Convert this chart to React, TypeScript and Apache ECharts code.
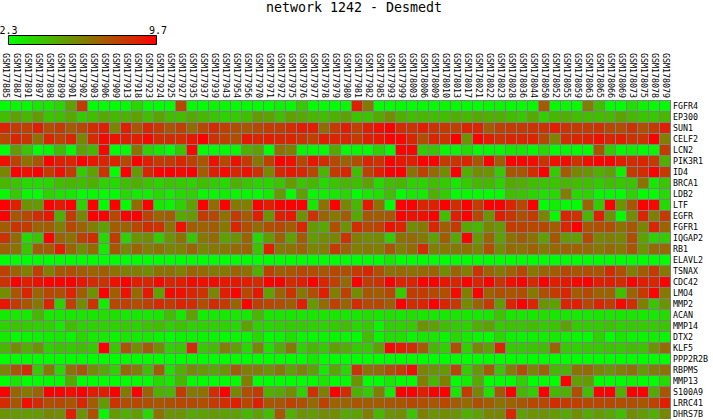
import React, { useEffect, useRef } from "react";
import * as echarts from "echarts";

const samples = ["GSM177885","GSM177887","GSM177891","GSM177897","GSM177898","GSM177899","GSM177901","GSM177902","GSM177903","GSM177906","GSM177909","GSM177913","GSM177918","GSM177923","GSM177924","GSM177925","GSM177927","GSM177935","GSM177937","GSM177939","GSM177943","GSM177954","GSM177956","GSM177970","GSM177971","GSM177972","GSM177975","GSM177976","GSM177977","GSM177978","GSM177979","GSM177980","GSM177981","GSM177982","GSM177985","GSM177993","GSM177999","GSM178003","GSM178006","GSM178009","GSM178010","GSM178013","GSM178017","GSM178021","GSM178022","GSM178023","GSM178028","GSM178036","GSM178044","GSM178050","GSM178052","GSM178055","GSM178059","GSM178063","GSM178065","GSM178066","GSM178069","GSM178073","GSM178075","GSM178078","GSM178079"];
const genes = ["FGFR4","EP300","SUN1","CELF2","LCN2","PIK3R1","ID4","BRCA1","LDB2","LTF","EGFR","FGFR1","IQGAP2","RB1","ELAVL2","TSNAX","CDC42","LMO4","MMP2","ACAN","MMP14","DTX2","KLF5","PPP2R2B","RBPMS","MMP13","S100A9","LRRC41","DHRS7B"];

const FGFR4 = [2.3,2.5,2.5,3.0,3.0,3.5,5.0,8.0,2.3,2.3,2.3,2.4,3.5,2.4,2.3,2.3,7.6,2.4,2.3,2.6,2.5,2.4,2.4,2.3,2.3,2.7,2.5,3.8,2.4,2.3,2.3,2.5,8.8,6.2,2.3,2.3,2.4,2.3,2.4,2.4,2.5,2.4,2.4,2.3,2.5,2.6,2.4,2.4,2.5,7.0,2.5,2.5,2.4,6.0,4.2,2.4,2.3,3.2,2.7,2.4,2.4];
const EP300 = [4.2,5.0,4.4,5.2,4.0,4.2,4.8,3.8,4.2,4.8,4.4,4.6,5.0,4.2,5.0,4.2,4.2,4.8,4.4,4.0,3.6,3.8,4.2,5.2,5.0,4.2,5.0,4.8,4.4,4.2,4.6,5.0,4.0,4.0,4.8,5.6,4.6,4.2,4.4,4.2,4.2,4.6,4.4,4.8,4.6,4.6,4.2,3.9,4.8,3.6,4.4,4.6,4.2,4.2,4.2,4.3,5.0,4.4,4.0,3.9,4.4];
const SUN1 = [8.6,8.0,7.8,8.8,7.4,8.0,7.0,7.6,8.4,8.8,5.8,8.8,7.2,8.6,8.0,7.2,7.8,6.6,7.6,8.4,7.8,7.4,7.2,7.6,8.0,8.0,8.4,8.8,8.8,6.6,8.0,8.8,7.8,8.8,9.2,9.7,8.4,8.2,8.8,8.2,8.0,7.8,8.6,8.6,7.0,7.8,8.0,8.0,8.2,8.2,8.8,8.2,8.0,8.0,8.2,7.6,7.4,8.2,7.4,8.0,8.8];
const CELF2 = [7.6,8.6,8.2,6.4,8.6,7.8,8.6,5.8,8.4,9.4,9.2,8.8,8.8,9.4,8.4,8.4,8.4,9.0,9.7,8.2,7.8,7.4,9.0,8.6,8.8,8.6,8.6,8.2,7.8,8.8,8.6,8.6,8.0,8.8,9.0,9.6,9.4,8.6,7.4,8.6,8.2,9.7,5.4,9.6,8.8,8.2,8.6,8.6,8.6,7.6,5.8,8.4,8.6,8.8,9.2,8.6,8.8,8.2,8.2,9.7,6.0];
const LCN2 = [2.3,5.2,4.0,2.3,2.6,4.2,2.5,5.0,4.4,9.4,2.3,2.4,6.4,3.6,3.0,2.4,4.0,9.4,2.3,2.4,2.4,2.5,4.6,5.0,2.3,6.4,6.0,2.6,2.5,2.4,4.8,2.4,2.5,2.4,3.6,2.5,9.5,9.5,3.8,4.0,2.5,2.6,3.3,2.4,2.5,2.5,3.0,3.0,2.5,3.4,2.4,2.6,2.4,2.4,7.2,3.8,2.5,2.8,2.4,2.5,8.0];
const PIK3R1 = [9.2,7.8,6.4,7.2,9.6,8.8,8.6,9.7,9.0,8.6,8.6,7.6,9.7,8.8,8.0,8.0,8.6,7.8,7.2,9.2,7.6,9.2,8.0,6.2,7.8,9.7,9.2,7.6,9.0,8.4,7.6,6.8,7.4,8.6,8.2,9.6,9.0,8.8,9.6,9.7,8.0,8.2,8.6,7.2,9.6,7.0,9.7,9.5,9.3,8.2,9.2,9.3,8.2,9.3,9.6,9.6,8.8,8.4,8.6,8.0,4.6];
const ID4 = [5.8,9.7,9.2,9.7,8.0,9.2,8.0,3.8,5.0,8.2,2.3,9.7,5.2,8.6,9.6,9.7,9.4,9.7,7.0,8.8,9.4,8.6,9.2,8.2,5.8,8.6,9.0,8.6,7.6,4.4,8.0,8.6,4.2,7.8,8.8,9.7,9.7,6.4,7.8,6.6,5.6,9.7,4.6,5.6,5.4,3.8,7.2,7.2,8.4,9.7,3.8,7.0,5.8,5.4,4.6,5.0,2.8,8.0,8.4,9.7,8.0];
const BRCA1 = [4.4,4.0,3.4,3.4,3.5,4.2,4.4,4.2,4.6,3.6,3.4,4.2,4.6,4.0,3.6,4.0,3.8,3.6,4.2,3.8,3.4,4.6,4.0,3.6,3.6,4.0,5.2,4.0,4.4,3.4,4.0,4.4,4.2,5.0,3.4,4.2,4.4,3.6,3.6,4.2,3.8,3.0,3.8,4.4,4.4,3.6,4.8,4.6,4.2,4.0,4.0,4.4,4.2,4.2,3.8,4.2,3.9,4.0,6.4,3.0,4.0];
const LDB2 = [2.5,3.8,2.5,2.3,3.6,3.2,3.0,2.4,2.5,2.4,2.4,3.4,2.9,2.8,3.4,2.9,3.4,3.6,2.6,2.6,2.8,2.6,2.6,2.4,2.9,5.2,2.4,5.0,2.6,2.8,3.0,3.5,2.4,3.0,3.2,4.2,2.4,3.0,2.9,4.6,3.8,2.4,2.5,2.4,2.4,2.4,4.2,4.0,3.6,3.2,3.4,6.0,3.4,3.6,2.6,2.6,2.4,3.6,2.4,2.4,3.4];
const LTF = [9.7,8.8,5.4,5.2,9.7,9.0,9.7,3.6,9.7,2.4,9.7,2.4,6.6,9.7,3.0,2.6,3.6,5.0,9.7,6.6,9.7,6.2,6.0,9.7,8.8,9.7,9.7,9.7,3.0,6.4,9.7,5.8,4.4,9.0,6.4,2.4,9.7,9.7,8.6,8.8,9.7,8.4,9.7,8.0,9.7,9.7,8.6,7.6,9.7,2.3,2.8,2.4,2.3,6.8,3.8,9.7,5.4,7.2,9.7,9.4,3.4];
const EGFR = [9.7,7.2,7.6,8.4,9.0,4.6,8.0,5.8,9.7,9.7,7.6,9.7,9.7,7.8,6.8,7.0,4.8,5.2,8.0,7.6,6.4,8.0,7.0,8.8,5.4,8.8,9.0,5.4,8.2,6.8,6.2,7.0,4.8,7.2,7.0,7.2,9.7,9.2,9.2,9.7,4.2,8.8,9.7,7.6,5.4,8.8,8.2,7.4,8.0,5.8,2.5,8.6,8.2,4.4,8.8,5.4,2.4,5.6,8.6,6.0,8.0];
const FGFR1 = [7.0,8.2,8.0,6.8,7.0,6.0,7.6,6.8,6.0,5.0,7.0,6.8,7.6,8.4,8.2,6.4,9.2,7.0,6.8,7.0,6.2,8.6,7.4,6.6,7.4,7.6,7.0,8.6,5.2,4.8,7.4,5.4,8.4,7.6,7.8,9.2,8.6,5.6,6.2,8.6,7.0,8.0,4.8,4.4,5.8,5.2,8.0,7.8,7.6,7.6,7.0,8.6,9.7,7.2,7.4,7.4,6.4,7.2,5.8,8.6,6.8];
const IQGAP2 = [8.2,6.6,3.4,4.0,9.7,6.8,6.4,7.8,8.4,3.4,8.0,3.6,5.4,5.6,3.8,5.4,6.4,4.0,6.2,6.6,5.0,5.4,6.8,3.4,5.2,6.8,5.0,7.0,5.2,5.6,5.8,8.2,6.0,5.6,5.6,3.8,6.4,6.6,6.2,5.0,7.0,4.8,9.6,5.2,6.8,5.0,6.4,7.0,6.4,5.0,7.2,5.2,5.0,7.6,5.8,6.0,5.8,7.4,5.0,3.6,3.8];
const RB1 = [6.8,6.4,4.0,7.0,7.0,8.8,6.8,5.6,6.6,2.9,7.2,5.8,6.8,6.0,6.4,5.8,6.0,6.8,5.8,6.2,6.2,6.6,6.8,4.0,8.8,6.2,6.4,6.8,5.8,6.0,8.0,6.8,6.0,6.2,6.0,7.2,6.0,6.6,8.4,6.0,6.2,6.2,6.4,5.8,7.4,5.6,6.6,6.4,6.8,6.2,6.6,6.8,6.8,6.6,6.2,6.6,6.2,7.2,5.4,6.6,6.6];
const ELAVL2 = [2.3,2.3,2.3,2.3,2.3,2.3,2.3,2.3,2.3,2.3,2.3,2.3,2.3,2.3,2.3,2.3,2.3,2.3,2.3,2.3,2.3,2.3,2.3,2.3,2.3,2.3,2.3,2.3,2.3,2.3,2.3,2.3,2.3,2.3,2.3,3.0,2.3,2.3,2.3,2.3,2.3,2.3,2.3,2.3,2.3,2.3,2.3,2.3,2.3,2.3,2.3,2.3,2.3,2.3,2.3,2.3,2.3,2.3,2.3,2.3,2.3];
const TSNAX = [7.8,6.8,6.0,7.8,6.0,7.2,7.4,7.0,6.8,7.0,6.4,6.0,6.0,5.6,6.4,6.4,6.0,6.8,6.6,6.2,6.2,6.8,6.4,4.6,7.8,7.0,7.2,7.6,7.4,7.2,7.6,7.4,8.0,8.6,7.4,6.4,6.6,6.4,6.6,6.8,5.6,6.8,6.0,8.2,6.8,6.2,6.8,7.6,6.2,6.8,7.0,7.6,7.2,7.4,7.2,8.4,7.4,6.0,7.0,8.0,6.2];
const CDC42 = [8.2,9.7,8.8,9.2,9.6,9.6,9.7,9.0,8.4,8.2,9.2,9.7,8.8,8.6,9.4,8.6,8.8,9.4,9.2,9.4,9.0,9.0,8.8,8.4,9.7,9.7,8.4,8.8,9.7,8.6,7.8,6.6,9.7,8.0,8.2,9.7,8.6,8.6,9.6,9.7,9.0,8.6,9.7,8.6,9.7,8.2,9.2,9.6,8.4,9.7,8.8,9.0,9.4,9.7,8.8,8.8,8.4,9.6,8.8,8.6,9.6];
const LMO4 = [5.6,7.2,8.6,6.8,7.6,7.4,8.6,7.0,5.4,9.7,7.0,9.2,6.6,9.0,5.0,9.4,9.2,8.6,8.2,5.8,8.8,9.6,7.6,9.0,5.0,6.8,8.2,6.2,7.4,8.8,6.0,7.8,5.6,7.2,7.0,7.6,3.8,8.0,8.0,7.6,7.4,9.4,6.0,9.7,6.8,7.4,7.2,7.4,6.2,7.4,8.0,8.6,7.0,7.6,6.8,6.8,4.2,6.8,8.0,9.6,6.2];
const MMP2 = [9.0,8.0,7.2,6.2,8.6,3.6,7.8,5.6,8.2,2.8,7.6,7.8,7.4,7.8,8.4,8.0,8.6,8.4,7.4,8.4,8.0,6.8,9.6,7.8,7.6,7.4,7.0,8.8,5.2,6.6,7.8,6.8,8.4,7.6,7.6,7.0,9.7,8.4,8.6,9.7,8.6,8.0,5.6,6.8,8.0,5.2,8.6,9.7,8.6,5.4,5.0,8.6,8.8,7.6,8.6,8.0,9.4,8.4,6.0,4.0,5.4];
const ACAN = [2.9,2.9,2.9,4.4,2.9,2.9,2.9,3.0,3.0,3.2,3.2,2.9,3.0,2.9,3.0,4.2,2.9,5.0,2.8,2.9,2.9,2.9,2.9,4.4,3.0,3.0,3.0,3.0,3.0,3.0,3.0,3.0,3.0,3.2,3.0,3.2,3.0,3.2,3.0,3.0,2.9,3.0,3.0,2.9,3.0,4.0,3.0,3.0,3.0,3.2,3.0,3.0,2.9,2.9,3.0,3.0,3.0,3.0,2.9,2.9,3.4];
const MMP14 = [3.6,4.0,3.8,3.6,3.6,2.9,4.2,3.6,3.6,3.6,3.6,3.8,3.6,4.0,4.2,3.6,4.0,3.6,3.6,3.6,3.6,3.4,5.0,3.6,3.4,3.6,3.8,3.8,3.6,3.6,3.8,4.2,3.4,3.8,2.6,3.6,3.6,3.8,5.4,5.0,4.2,3.8,3.6,4.6,5.0,3.8,4.0,4.0,4.2,3.8,4.0,5.0,3.8,3.8,3.8,4.0,3.6,3.8,3.8,3.8,4.0];
const DTX2 = [2.9,2.4,2.6,2.7,2.8,2.9,2.6,3.4,2.9,2.9,2.6,3.0,2.9,2.9,2.6,2.3,2.6,2.6,2.6,2.6,2.4,2.5,2.5,3.4,2.4,2.6,3.2,2.5,2.5,2.6,2.6,2.5,2.4,4.2,2.6,3.2,3.2,2.6,3.0,3.0,2.6,3.4,2.9,2.5,2.3,3.4,2.7,2.6,2.7,2.8,2.9,2.7,2.5,2.4,3.6,2.3,3.0,2.6,2.6,2.8,2.6];
const KLF5 = [4.4,5.6,4.6,5.4,3.6,4.0,3.8,4.2,3.8,9.7,3.9,7.2,5.6,7.0,5.6,3.6,3.8,8.4,3.8,4.2,6.0,5.0,3.4,5.8,3.2,4.6,6.2,3.6,4.4,3.8,5.0,4.6,3.8,3.8,5.0,9.4,8.8,8.4,7.0,4.4,3.6,7.4,3.6,5.8,5.0,8.6,3.8,3.8,4.0,4.2,6.8,3.8,3.6,3.8,3.8,4.0,3.8,4.2,4.0,5.4,6.6];
const PPP2R2B = [2.3,2.3,2.3,2.3,2.3,2.3,2.3,2.3,2.3,2.3,2.3,2.3,2.3,2.4,2.3,2.3,2.3,2.3,2.3,2.3,2.3,2.3,2.3,2.3,2.3,2.3,2.3,2.3,3.0,2.3,2.3,2.3,2.3,2.3,2.3,2.3,2.3,2.3,2.3,2.3,2.3,2.3,2.3,2.3,2.3,2.3,2.3,2.3,2.3,2.3,2.3,2.3,2.3,2.3,2.3,2.3,2.3,2.3,2.3,2.3,2.3];
const RBPMS = [5.8,7.2,8.4,3.8,6.2,3.4,6.4,7.2,5.6,4.8,3.6,6.6,6.0,4.2,7.0,3.2,4.6,5.6,5.2,4.8,5.4,7.0,6.0,6.0,5.4,6.2,5.0,5.8,5.0,3.0,4.8,3.4,8.2,6.4,6.6,7.4,8.0,9.2,5.8,5.4,5.2,7.6,3.8,5.2,7.0,4.0,6.0,7.4,5.8,6.8,4.4,4.4,6.4,6.6,5.8,5.4,6.0,6.4,5.2,6.0,6.4];
const MMP13 = [2.3,3.0,2.3,2.3,2.4,2.4,4.8,2.3,2.3,2.3,2.3,2.3,2.4,2.3,3.4,3.0,4.4,2.4,2.4,2.3,2.4,2.4,6.0,2.3,2.3,2.3,2.3,2.3,2.4,3.0,2.4,2.4,5.4,2.3,2.3,2.9,2.4,2.4,6.0,4.4,6.0,2.3,2.8,4.8,2.3,2.3,2.3,3.6,2.3,2.3,2.3,9.7,5.0,5.2,2.4,2.3,2.3,2.6,2.3,2.3,3.4];
const S100A9 = [9.6,6.8,6.2,6.8,9.7,9.6,9.2,9.7,8.8,8.8,9.7,6.2,9.7,6.8,4.6,4.4,8.0,6.2,6.4,8.4,9.7,5.8,7.4,8.0,4.6,4.8,5.6,3.6,8.2,6.0,9.7,8.4,4.6,3.8,6.0,2.9,9.7,9.7,8.8,9.7,9.7,3.0,8.0,5.8,3.2,7.2,9.7,4.4,3.8,9.7,4.4,4.6,7.4,4.2,9.6,9.7,4.6,9.7,9.7,4.8,7.2];
const LRRC41 = [8.4,7.2,9.2,8.4,7.4,7.6,7.2,8.6,7.0,5.2,8.2,7.4,7.6,7.4,7.2,7.4,7.6,7.6,7.4,8.0,8.4,8.8,7.6,8.8,7.2,7.2,7.8,7.4,6.6,7.8,6.8,6.8,7.2,7.0,7.0,7.2,7.2,7.6,7.4,7.2,7.6,7.0,6.6,7.4,7.0,6.4,6.8,7.2,7.6,7.6,8.4,8.0,7.8,7.6,7.6,7.6,7.4,7.4,7.2,7.8,8.8];
const DHRS7B = [5.4,5.2,5.2,5.2,5.8,5.6,8.8,5.4,7.4,2.6,5.2,4.6,5.2,3.4,6.4,5.4,5.4,4.8,5.0,5.2,5.0,5.0,4.4,5.0,4.2,7.2,4.6,5.4,5.2,5.6,5.6,4.8,5.0,6.0,4.4,5.4,5.6,4.0,6.0,5.4,5.6,5.4,4.6,5.0,5.8,5.8,8.6,5.0,5.4,5.4,5.2,4.8,5.6,4.8,5.2,4.8,4.2,5.6,5.2,4.6,5.8];

const matrix = [FGFR4,EP300,SUN1,CELF2,LCN2,PIK3R1,ID4,BRCA1,LDB2,LTF,EGFR,FGFR1,IQGAP2,RB1,ELAVL2,TSNAX,CDC42,LMO4,MMP2,ACAN,MMP14,DTX2,KLF5,PPP2R2B,RBPMS,MMP13,S100A9,LRRC41,DHRS7B];
const valueMin = 2.3;
const valueMax = 9.7;
const MONO = "'DejaVu Sans Mono', monospace";

export default function App() {
  const ref = useRef<HTMLDivElement>(null);
  useEffect(() => {
    document.body.style.margin = "0";
    const chart = echarts.init(ref.current!, undefined, { renderer: "svg" });
    const data: number[][] = [];
    matrix.forEach((row, y) => row.forEach((v, x) => data.push([x, y, v])));
    chart.setOption({
      animation: false,
      backgroundColor: "#fff",
      title: {
        text: "network 1242 - Desmedt",
        left: 266,
        top: 1,
        padding: 0,
        textStyle: { fontFamily: MONO, fontSize: 13.3, fontWeight: "normal", color: "#000" },
      },
      grid: { left: 0, top: 100, width: 671, height: 319, show: true, backgroundColor: "#808080", borderWidth: 0 },
      xAxis: {
        type: "category",
        position: "top",
        data: samples,
        axisLine: { show: false },
        axisTick: { show: false },
        splitLine: { show: false },
        axisLabel: { interval: 0, rotate: 90, margin: 2, fontFamily: MONO, fontSize: 8.3, color: "#000" },
      },
      yAxis: {
        type: "category",
        position: "right",
        inverse: true,
        data: genes,
        axisLine: { show: false },
        axisTick: { show: false },
        splitLine: { show: false },
        axisLabel: { interval: 0, margin: 2, fontFamily: MONO, fontSize: 8.3, color: "#000" },
      },
      visualMap: {
        show: false,
        type: "continuous",
        min: valueMin,
        max: valueMax,
        dimension: 2,
        seriesIndex: 0,
        inRange: { color: ["#00ff00", "#ff0000"] },
      },
      graphic: [
        {
          type: "rect",
          silent: true,
          shape: { x: 8.5, y: 35.5, width: 148, height: 9 },
          style: {
            fill: new echarts.graphic.LinearGradient(0, 0, 1, 0, [
              { offset: 0, color: "#00ff00" },
              { offset: 1, color: "#ff0000" },
            ]),
            stroke: "#000",
            lineWidth: 1,
          },
        },
        { type: "text", x: 8.5, y: 30, style: { text: String(valueMin), font: `10px ${MONO}`, fill: "#000", textAlign: "center", textVerticalAlign: "middle" } },
        { type: "text", x: 158, y: 30, style: { text: String(valueMax), font: `10px ${MONO}`, fill: "#000", textAlign: "center", textVerticalAlign: "middle" } },
      ],
      series: [
        {
          type: "custom",
          coordinateSystem: "cartesian2d",
          data,
          encode: { x: 0, y: 1 },
          renderItem: (_p: any, api: any) => {
            const c = api.coord([api.value(0), api.value(1)]);
            const s = api.size([1, 1]);
            return {
              type: "rect",
              shape: { x: c[0] - s[0] / 2, y: c[1] - s[1] / 2 + 1, width: s[0] - 1, height: s[1] - 1 },
              style: { fill: api.visual("color") },
            };
          },
        },
      ],
    });
    return () => chart.dispose();
  }, []);
  return <div ref={ref} style={{ position: "absolute", left: 0, top: 0, width: 713, height: 420 }} />;
}
